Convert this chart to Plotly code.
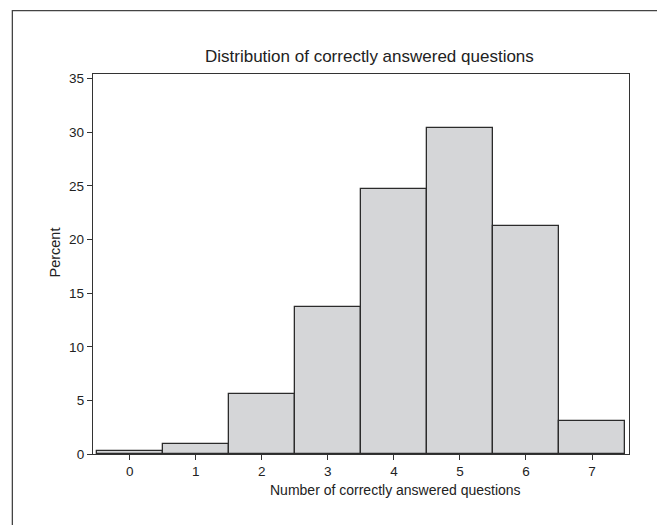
import plotly.graph_objects as go

categories = [0, 1, 2, 3, 4, 5, 6, 7]
percent = [0.31, 0.9, 5.6, 13.75, 24.7, 30.4, 21.28, 3.08]
y_ticks = [0, 5, 10, 15, 20, 25, 30, 35]

OFF = 8.0  # page body margin
W, H = 665 - OFF, 525 - OFF
L, R, T, B = 93.3 - OFF, 629.0 - OFF, 74.3 - OFF, 454.0 - OFF

def px(x):
    return (x - OFF - L) / (R - L)

def py(y):
    return (B - (y - OFF)) / (B - T)

FONT = "Liberation Sans, Arial, Helvetica, sans-serif"
LINE = "#333333"

fig = go.Figure()
fig.add_trace(go.Bar(
    x=categories, y=percent, width=1.0,
    marker=dict(color="#d5d6d8", line=dict(color="#2b2b2b", width=1.3)),
    showlegend=False,
))

fig.update_layout(
    width=W, height=H,
    margin=dict(l=L, r=W - R, t=T, b=H - B, pad=0),
    paper_bgcolor="white", plot_bgcolor="white",
    font=dict(family=FONT, size=13.5, color="#222222"),
    bargap=0,
    xaxis=dict(
        range=[-0.556, 7.56], tickmode="array", tickvals=categories,
        ticktext=[str(c) for c in categories],
        ticks="outside", ticklen=5, tickwidth=1.2, tickcolor=LINE,
        showline=True, linecolor=LINE, linewidth=1.3, mirror=True,
        showgrid=False, zeroline=False, tickfont=dict(size=13.5),
    ),
    yaxis=dict(
        range=[0, 35.44], tickmode="array", tickvals=y_ticks,
        ticks="outside", ticklen=5, tickwidth=1.2, tickcolor=LINE,
        showline=True, linecolor=LINE, linewidth=1.3, mirror=True,
        showgrid=False, zeroline=False, tickfont=dict(size=13.5),
    ),
    annotations=[
        dict(text="Distribution of correctly answered questions", xref="paper", yref="paper",
             x=px(370), y=py(57), xanchor="center", yanchor="middle", showarrow=False,
             font=dict(size=17, family=FONT, color="#222222")),
        dict(text="Number of correctly answered questions", xref="paper", yref="paper",
             x=px(396), y=py(490), xanchor="center", yanchor="middle", showarrow=False,
             font=dict(size=14, family=FONT, color="#222222")),
        dict(text="Percent", xref="paper", yref="paper", textangle=-90,
             x=px(55), y=py(253), xanchor="center", yanchor="middle", showarrow=False,
             font=dict(size=14.5, family=FONT, color="#222222")),
    ],
    shapes=[
        dict(type="rect", xref="paper", yref="paper",
             x0=px(12.7), x1=px(661.7), y0=py(545), y1=py(11),
             line=dict(color="#444444", width=1.3), fillcolor="rgba(0,0,0,0)", layer="above"),
    ],
)

fig.write_html("out.html")
